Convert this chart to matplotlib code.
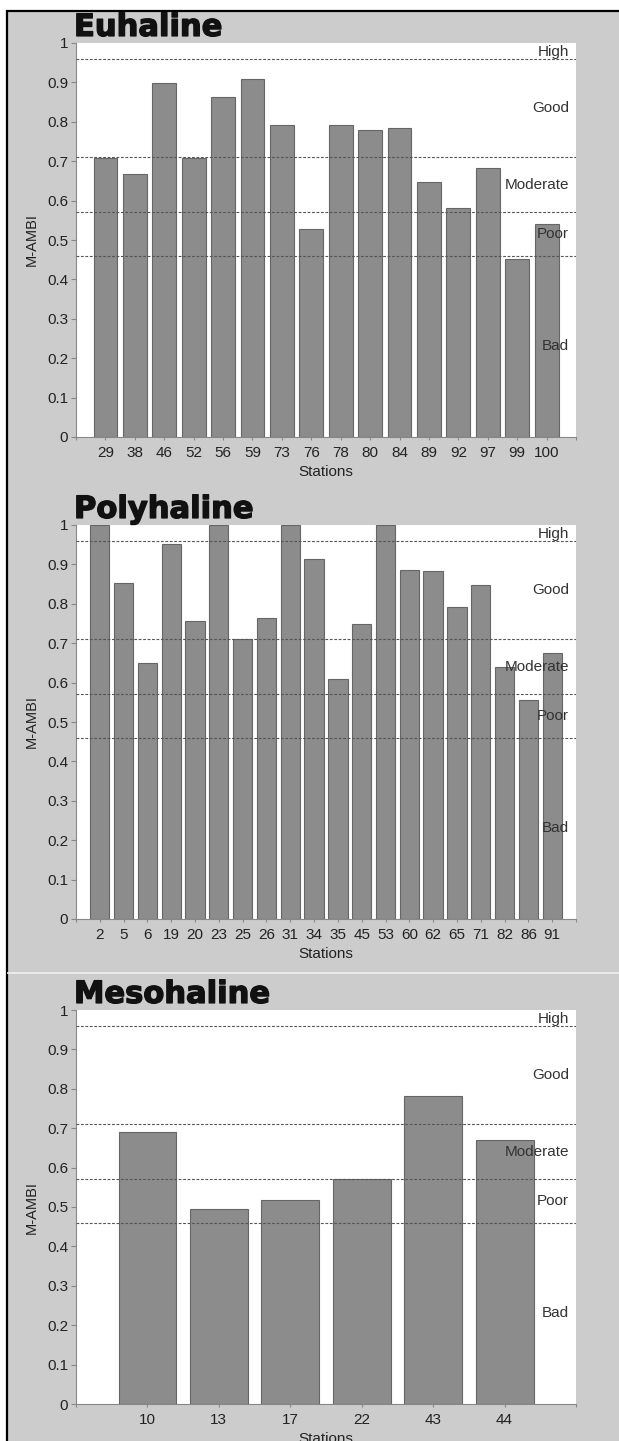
import matplotlib.pyplot as plt
import matplotlib.patheffects as pe
from matplotlib.patches import Rectangle
from matplotlib.lines import Line2D

plt.rcParams['font.family'] = ['Liberation Sans', 'DejaVu Sans']

# M-AMBI scores per station, grouped by salinity zone
euhaline_stations = ['29', '38', '46', '52', '56', '59', '73', '76', '78', '80', '84', '89', '92', '97', '99', '100']
euhaline_values = [0.708, 0.668, 0.898, 0.709, 0.863, 0.908, 0.793, 0.528, 0.791, 0.778, 0.784, 0.647, 0.581, 0.682, 0.452, 0.540]

polyhaline_stations = ['2', '5', '6', '19', '20', '23', '25', '26', '31', '34', '35', '45', '53', '60', '62', '65', '71', '82', '86', '91']
polyhaline_values = [1.0, 0.852, 0.651, 0.951, 0.757, 1.0, 0.710, 0.764, 1.0, 0.914, 0.609, 0.748, 1.0, 0.885, 0.882, 0.791, 0.848, 0.640, 0.555, 0.675]

mesohaline_stations = ['10', '13', '17', '22', '43', '44']
mesohaline_values = [0.691, 0.494, 0.518, 0.572, 0.782, 0.670]

# ecological status class boundaries and where their names sit
boundaries = [0.96, 0.71, 0.57, 0.46]
class_names = ['High', 'Good', 'Moderate', 'Poor', 'Bad']
class_label_y = [0.978, 0.835, 0.640, 0.515, 0.230]

W, H = 619, 1441
fig = plt.figure(figsize=(W / 100, H / 100), dpi=100, facecolor='white')

# grey panel with black frame on the top and left (right/bottom run off the page)
fig.patches.append(Rectangle((7 / W, -0.1), 1.2, 1.1 - 11 / H, transform=fig.transFigure,
                             facecolor='#cccccc', edgecolor='black', linewidth=1.6, zorder=-2))
fig.lines.append(Line2D([8 / W, 1], [1 - 973 / H, 1 - 973 / H], transform=fig.transFigure,
                        color='#eeeeee', linewidth=1.3, zorder=-1))


def draw_panel(top_px, title, stations, values):
    left, width, height = 76, 500, 394
    ax = fig.add_axes([left / W, 1 - (top_px + height) / H, width / W, height / H])
    n = len(stations)
    x = list(range(n))
    ax.bar(x, values, width=0.81, color='#8c8c8c', edgecolor='#666666', linewidth=0.8, zorder=2)
    for b in boundaries:
        ax.axhline(b, color='#555555', linewidth=0.8, linestyle=(0, (2.5, 1.5)), zorder=3)
    for name, y in zip(class_names, class_label_y):
        ax.text(0.986, y, name, transform=ax.get_yaxis_transform(), ha='right', va='center',
                fontsize=11, color='#333333', zorder=4)

    ax.set_xlim(-1, n)
    ax.set_ylim(0, 1)
    ax.set_xticks(x)
    ax.set_xticklabels(stations)
    ax.set_xticks([-1, n], minor=True)
    ax.set_yticks([i / 10 for i in range(11)])
    ax.set_yticklabels(['0', '0.1', '0.2', '0.3', '0.4', '0.5', '0.6', '0.7', '0.8', '0.9', '1'])
    ax.tick_params(axis='both', which='both', labelsize=11, labelcolor='#222222', color='#888888',
                   width=0.8)
    ax.tick_params(axis='x', which='both', length=2.5, pad=4)
    ax.tick_params(axis='y', length=3.5, pad=2)
    for s in ['top', 'right']:
        ax.spines[s].set_visible(False)
    for s in ['left', 'bottom']:
        ax.spines[s].set_color('#888888')
        ax.spines[s].set_linewidth(0.8)

    ax.text(-0.088, 0.5, 'M-AMBI', transform=ax.transAxes, rotation=90, ha='center', va='center',
            fontsize=10.5, color='#222222')
    ax.text(0.5, -0.089, 'Stations', transform=ax.transAxes, ha='center', va='center',
            fontsize=11, color='#222222')
    ax.text(-0.004, 1.018, title, transform=ax.transAxes, ha='left', va='baseline',
            family='DejaVu Sans', fontweight='bold', fontsize=22, color='#111111',
            path_effects=[pe.withStroke(linewidth=1.0, foreground='#111111')])
    return ax


draw_panel(43, 'Euhaline', euhaline_stations, euhaline_values)
draw_panel(525, 'Polyhaline', polyhaline_stations, polyhaline_values)
draw_panel(1010, 'Mesohaline', mesohaline_stations, mesohaline_values)

fig.savefig('out.png', dpi=100)
